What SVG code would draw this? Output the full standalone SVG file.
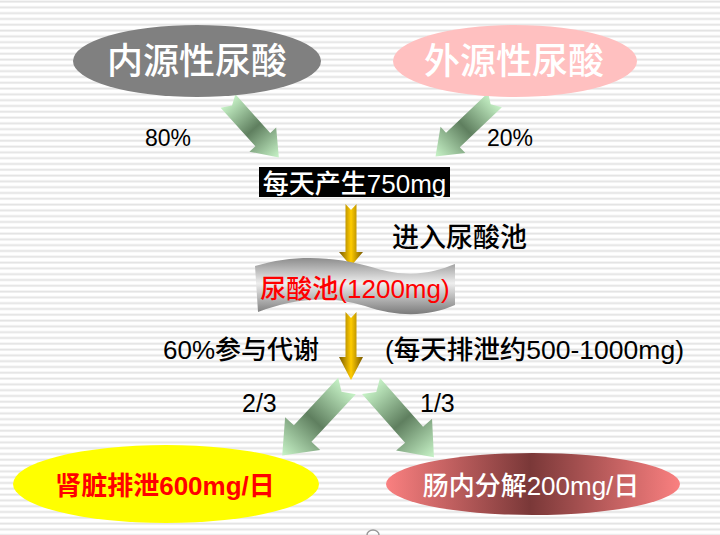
<svg xmlns="http://www.w3.org/2000/svg" width="720" height="535" viewBox="0 0 720 535">
<defs>
<pattern id="stripes" x="0" y="0" width="10" height="5.8" patternUnits="userSpaceOnUse">
<rect x="0" y="0" width="10" height="5.8" fill="#ffffff"/>
<rect x="0" y="0.6" width="10" height="1.9" fill="#e3e3e3"/>
</pattern>
<linearGradient id="green" x1="0" y1="0" x2="0" y2="1">
<stop offset="0" stop-color="#c8f4c8"/>
<stop offset="0.5" stop-color="#5f7f5f"/>
<stop offset="1" stop-color="#c8f4c8"/>
</linearGradient>
<linearGradient id="gold" x1="0" y1="0" x2="1" y2="0">
<stop offset="0" stop-color="#7a5a00"/>
<stop offset="0.5" stop-color="#ffcc00"/>
<stop offset="1" stop-color="#7a5a00"/>
</linearGradient>
<linearGradient id="wave" x1="0" y1="0" x2="0" y2="1">
<stop offset="0" stop-color="#8c8c8c"/>
<stop offset="0.45" stop-color="#eeeeee"/>
<stop offset="1" stop-color="#7a7a7a"/>
</linearGradient>
<linearGradient id="redg" x1="0" y1="0" x2="1" y2="0">
<stop offset="0" stop-color="#fa8080"/>
<stop offset="0.49" stop-color="#7a3838"/>
<stop offset="1" stop-color="#fa8080"/>
</linearGradient>
</defs>
<style>
text { font-family: "Liberation Sans", "Noto Sans CJK SC", sans-serif; }
.lbl { fill: #000000; font-weight: 500; }
.mid { text-anchor: middle; }
.garrow { fill: url(#green); }
.yarrow { fill: url(#gold); }
</style>
<rect x="0" y="0" width="720" height="535" fill="url(#stripes)"/>

<g id="connectors">
<polygon class="garrow" transform="translate(228,101) rotate(-42)" points="-10,0 0,6 10,0 10,52 18,52 0,76 -18,52 -10,52"/>
<polygon class="garrow" transform="translate(495,100) rotate(46.5)" points="-10,0 0,6 10,0 10,58 18,58 0,82 -18,58 -10,58"/>
<polygon class="yarrow" points="345.5,204 351,210 356.5,204 356.5,252 363,252 351,266 339,252 345.5,252"/>
<polygon class="yarrow" points="345.5,312 351,318 356.5,312 356.5,357 363,357 351,380 339,357 345.5,357"/>
<polygon class="garrow" transform="translate(347,386) rotate(43)" points="-12,0 0,8 12,0 12,65 24,65 0,95 -24,65 -12,65"/>
<polygon class="garrow" transform="translate(371,386) rotate(-41.5)" points="-12,0 0,8 12,0 12,65 24,65 0,95 -24,65 -12,65"/>
</g>

<g id="labels">
<text class="lbl" x="145" y="146" font-size="23">80%</text>
<text class="lbl" x="487" y="146" font-size="23">20%</text>
<text class="lbl" x="392" y="247" font-size="27">进入尿酸池</text>
<text class="lbl" x="163" y="359" font-size="26">60%参与代谢</text>
<text class="lbl" x="385" y="359" font-size="26.5">(每天排泄约500-1000mg)</text>
<text class="lbl" x="242" y="412" font-size="25">2/3</text>
<text class="lbl" x="420" y="412" font-size="25">1/3</text>
</g>

<g id="node-endogenous">
<ellipse cx="197" cy="61" rx="124" ry="36" fill="#808080"/>
<text class="mid" x="197" y="74" font-size="36" font-weight="500" fill="#ffffff">内源性尿酸</text>
</g>

<g id="node-exogenous">
<ellipse cx="515" cy="61" rx="122" ry="36" fill="#ffc0c0"/>
<text class="mid" x="514" y="74" font-size="36" font-weight="500" fill="#ffffff">外源性尿酸</text>
</g>

<g id="node-daily">
<rect x="259" y="167" width="191" height="30" fill="#000000"/>
<text class="mid" x="354.5" y="193" font-size="26" font-weight="500" fill="#ffffff">每天产生750mg</text>
</g>

<g id="node-pool">
<path d="M255,266 C295,254 335,256 375,268 C410,279 435,272 455,264 L455,305 C430,316 400,318 365,306 C325,294 290,300 258,312 Z" fill="url(#wave)"/>
<text class="mid" x="355" y="298" font-size="26" font-weight="500" fill="#ff0000">尿酸池(1200mg)</text>
</g>

<g id="node-kidney">
<ellipse cx="166" cy="484" rx="153" ry="39" fill="#ffff00"/>
<text class="mid" x="165" y="495" font-size="26" font-weight="bold" fill="#ff0000">肾脏排泄600mg/日</text>
</g>

<g id="node-intestine">
<ellipse cx="533" cy="484" rx="147" ry="31" fill="url(#redg)"/>
<text class="mid" x="531" y="495" font-size="26" font-weight="500" fill="#ffffff">肠内分解200mg/日</text>
</g>

<path d="M367,535 A6,5 0 0 1 379,535" fill="none" stroke="#999999" stroke-width="1.5"/>
</svg>
